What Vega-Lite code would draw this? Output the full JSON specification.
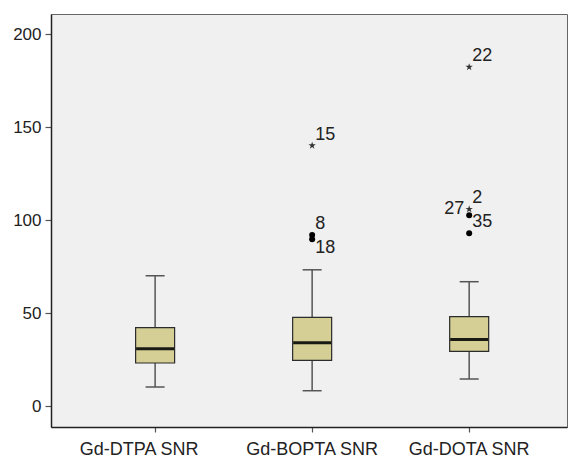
{
  "$schema": "https://vega.github.io/schema/vega-lite/v6.json",
  "width": 516,
  "height": 413,
  "autosize": {"type": "none"},
  "padding": {"left": 51, "top": 14, "right": 1, "bottom": 31},
  "background": "#ffffff",
  "config": {
    "view": {"fill": "#f0f0f0", "stroke": "#666666", "strokeWidth": 1},
    "font": "Liberation Sans",
    "axis": {
      "labelFont": "Liberation Sans",
      "labelFontSize": 17,
      "labelColor": "#222222",
      "domainColor": "#222222",
      "domainWidth": 1.5,
      "tickColor": "#555555",
      "tickWidth": 1.2,
      "grid": false,
      "title": null
    }
  },
  "datasets": {
    "boxes": [
      {"group": "Gd-DTPA SNR", "lo": 10.4, "q1": 23.3, "median": 31.0, "q3": 42.3, "hi": 70.2},
      {"group": "Gd-BOPTA SNR", "lo": 8.4, "q1": 24.7, "median": 34.2, "q3": 47.8, "hi": 73.4},
      {"group": "Gd-DOTA SNR", "lo": 14.7, "q1": 29.6, "median": 36.0, "q3": 48.2, "hi": 67.0}
    ],
    "outliers": [
      {"group": "Gd-BOPTA SNR", "value": 140.2, "case": "15", "kind": "extreme"},
      {"group": "Gd-BOPTA SNR", "value": 92.1, "case": "8", "kind": "outlier"},
      {"group": "Gd-BOPTA SNR", "value": 89.8, "case": "18", "kind": "outlier"},
      {"group": "Gd-DOTA SNR", "value": 182.4, "case": "22", "kind": "extreme"},
      {"group": "Gd-DOTA SNR", "value": 106.0, "case": "2", "kind": "extreme"},
      {"group": "Gd-DOTA SNR", "value": 102.7, "case": "27", "kind": "outlier"},
      {"group": "Gd-DOTA SNR", "value": 93.0, "case": "35", "kind": "outlier"}
    ]
  },
  "encoding": {
    "x": {
      "field": "group",
      "type": "nominal",
      "sort": ["Gd-DTPA SNR", "Gd-BOPTA SNR", "Gd-DOTA SNR"],
      "scale": {"type": "band", "paddingInner": 0, "paddingOuter": 0.143, "align": 0.57},
      "axis": {
        "labelAngle": 0,
        "tickSize": 5,
        "labelPadding": 8,
        "labelFontSize": 18,
        "labelOffset": {"condition": {"test": "datum.value == 'Gd-DTPA SNR'", "value": -16}, "value": 0},
        "domain": true
      }
    }
  },
  "layer": [
    {
      "data": {"name": "boxes"},
      "mark": {"type": "rule", "color": "#555555", "strokeWidth": 1.5},
      "encoding": {
        "y": {
          "field": "lo",
          "type": "quantitative",
          "scale": {"domain": [-11.1, 210.9], "nice": false, "zero": false},
          "axis": {"values": [0, 50, 100, 150, 200], "tickSize": 6, "labelPadding": 4}
        },
        "y2": {"field": "hi"}
      }
    },
    {
      "data": {"name": "boxes"},
      "mark": {"type": "tick", "color": "#555555", "thickness": 1.5, "size": 19, "opacity": 1},
      "encoding": {"y": {"field": "lo", "type": "quantitative"}}
    },
    {
      "data": {"name": "boxes"},
      "mark": {"type": "tick", "color": "#555555", "thickness": 1.5, "size": 19, "opacity": 1},
      "encoding": {"y": {"field": "hi", "type": "quantitative"}}
    },
    {
      "data": {"name": "boxes"},
      "mark": {"type": "bar", "fill": "#d5cf96", "stroke": "#2b2b2b", "strokeWidth": 1.2, "size": 39, "opacity": 1},
      "encoding": {
        "y": {"field": "q1", "type": "quantitative"},
        "y2": {"field": "q3"}
      }
    },
    {
      "data": {"name": "boxes"},
      "mark": {"type": "tick", "color": "#1a1a14", "thickness": 3, "size": 38, "opacity": 1},
      "encoding": {"y": {"field": "median", "type": "quantitative"}}
    },
    {
      "data": {"name": "outliers"},
      "transform": [{"filter": "datum.kind == 'outlier'"}],
      "mark": {"type": "point", "shape": "circle", "filled": true, "color": "#000000", "size": 36, "opacity": 1},
      "encoding": {"y": {"field": "value", "type": "quantitative"}}
    },
    {
      "data": {"name": "outliers"},
      "transform": [{"filter": "datum.kind == 'extreme'"}],
      "mark": {
        "type": "point",
        "shape": "M0,-1L0.2245,-0.309L0.951,-0.309L0.363,0.118L0.588,0.809L0,0.382L-0.588,0.809L-0.363,0.118L-0.951,-0.309L-0.2245,-0.309Z",
        "filled": true,
        "color": "#333333",
        "size": 60,
        "opacity": 1
      },
      "encoding": {"y": {"field": "value", "type": "quantitative"}}
    },
    {
      "data": {"name": "outliers"},
      "transform": [{"filter": "datum.case != '27' && datum.case != '18'"}],
      "mark": {"type": "text", "align": "left", "baseline": "alphabetic", "dx": 3, "dy": -6, "fontSize": 18, "color": "#222222", "font": "Liberation Sans"},
      "encoding": {"y": {"field": "value", "type": "quantitative"}, "text": {"field": "case"}}
    },
    {
      "data": {"name": "outliers"},
      "transform": [{"filter": "datum.case == '27'"}],
      "mark": {"type": "text", "align": "right", "baseline": "alphabetic", "dx": -5, "dy": -1, "fontSize": 18, "color": "#222222", "font": "Liberation Sans"},
      "encoding": {"y": {"field": "value", "type": "quantitative"}, "text": {"field": "case"}}
    },
    {
      "data": {"name": "outliers"},
      "transform": [{"filter": "datum.case == '18'"}],
      "mark": {"type": "text", "align": "left", "baseline": "alphabetic", "dx": 3, "dy": 14, "fontSize": 18, "color": "#222222", "font": "Liberation Sans"},
      "encoding": {"y": {"field": "value", "type": "quantitative"}, "text": {"field": "case"}}
    }
  ]
}
